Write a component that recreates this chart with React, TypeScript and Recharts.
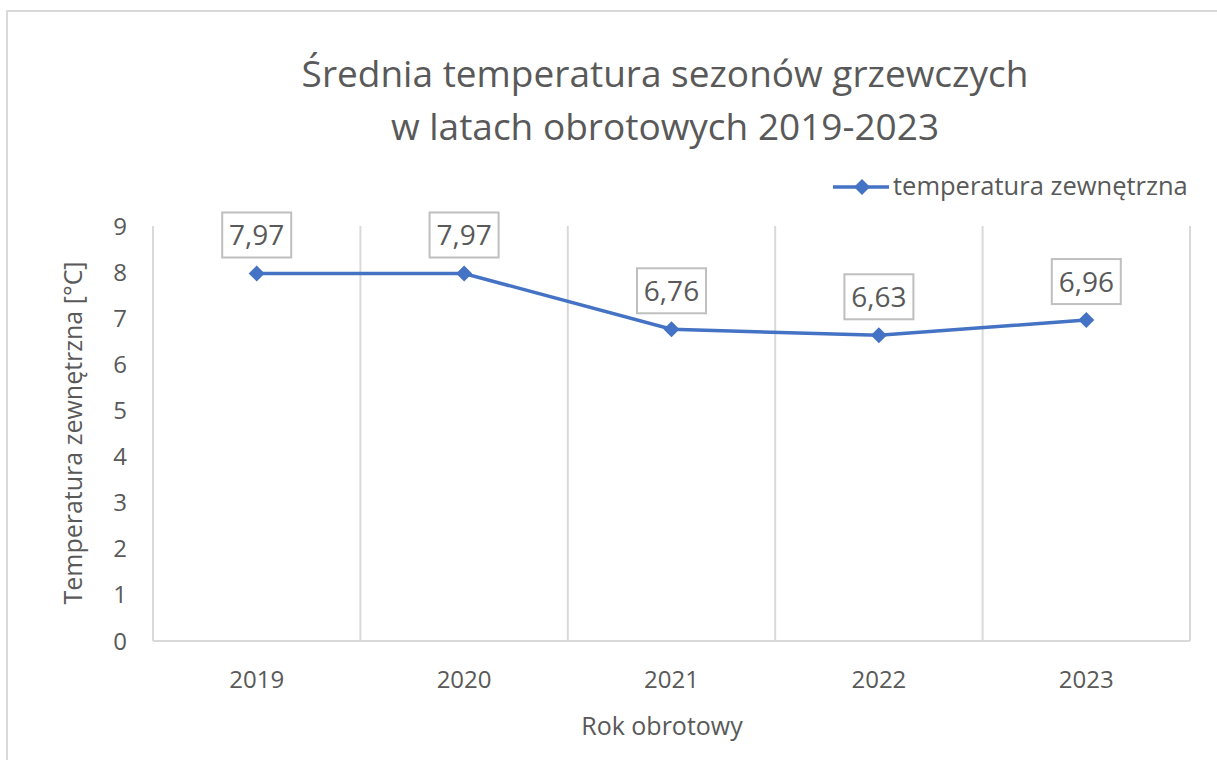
import { CartesianGrid, LabelList, Legend, Line, LineChart, XAxis, YAxis } from "recharts";

const years = ["2019", "2020", "2021", "2022", "2023"];
const temperatures = [7.97, 7.97, 6.76, 6.63, 6.96];
const yTicks = [0, 1, 2, 3, 4, 5, 6, 7, 8, 9];

const data = years.map((year, i) => ({ year, temp: temperatures[i] }));

const FONT = '"Open Sans", sans-serif';
const TEXT = "#595959";
const GRID = "#d9d9d9";
const BLUE = "#4472C4";

const fmt = (v: number) => v.toFixed(2).replace(".", ",");

function Diamond(props: any) {
  const { cx, cy } = props;
  if (cx == null || cy == null) return null;
  const r = 8;
  return (
    <polygon
      points={`${cx},${cy - r} ${cx + r},${cy} ${cx},${cy + r} ${cx - r},${cy}`}
      fill={BLUE}
    />
  );
}

function BoxLabel(props: any) {
  const { x, y, value } = props;
  if (x == null || y == null) return null;
  return (
    <g>
      <rect x={x - 34.5} y={y - 61} width={69} height={45} fill="#fff" stroke="#bfbfbf" strokeWidth={2} />
      <text x={x} y={y - 28} textAnchor="middle" fontSize={28} fill={TEXT} fontFamily={FONT}>
        {fmt(Number(value))}
      </text>
    </g>
  );
}

function LegendContent() {
  return (
    <svg width={370} height={40} style={{ display: "block" }}>
      <line x1={0} y1={19} x2={56} y2={19} stroke={BLUE} strokeWidth={3.5} />
      <polygon points="29,11 37,19 29,27 21,19" fill={BLUE} />
      <text x={60} y={27} fontSize={25.5} fill={TEXT} fontFamily={FONT}>
        temperatura zewnętrzna
      </text>
    </svg>
  );
}

export default function App() {
  return (
    <div style={{ position: "absolute", left: 0, top: 0, width: 1217, height: 760, background: "#fff", overflow: "hidden" }}>
      <div
        style={{
          position: "absolute",
          left: 6,
          top: 10,
          width: 1209,
          height: 800,
          border: `2px solid ${GRID}`,
        }}
      />
      <svg width={1217} height={760} style={{ position: "absolute", left: 0, top: 0 }}>
        <g fontFamily={FONT} fill={TEXT}>
          <text x={665} y={87} textAnchor="middle" fontSize={37}>
            Średnia temperatura sezonów grzewczych
          </text>
          <text x={665} y={140} textAnchor="middle" fontSize={37}>
            w latach obrotowych 2019-2023
          </text>
          <text x={662} y={735} textAnchor="middle" fontSize={25}>
            Rok obrotowy
          </text>
          <text transform="translate(82,433) rotate(-90)" textAnchor="middle" fontSize={25}>
            Temperatura zewnętrzna [°C]
          </text>
        </g>
      </svg>
      <div style={{ position: "absolute", left: 0, top: 0 }}>
        <LineChart width={1217} height={760} data={data} margin={{ top: 186, right: 27, bottom: 69, left: 93 }}>
          <CartesianGrid
            horizontal={false}
            stroke={GRID}
            strokeWidth={2}
            verticalCoordinatesGenerator={({ offset }: any) => {
              const step = offset.width / years.length;
              return years.map((_, i) => offset.left + i * step).concat(offset.left + offset.width);
            }}
          />
          <XAxis
            dataKey="year"
            scale="band"
            height={50}
            tickLine={false}
            axisLine={{ stroke: GRID, strokeWidth: 2 }}
            tick={{ fill: TEXT, fontSize: 24, fontFamily: FONT }}
            tickMargin={24}
          />
          <YAxis
            width={60}
            domain={[0, 9]}
            ticks={yTicks}
            interval={0}
            tickLine={false}
            axisLine={false}
            tick={{ fill: TEXT, fontSize: 24, fontFamily: FONT }}
            tickMargin={20}
          />
          <Legend
            verticalAlign="top"
            height={40}
            content={<LegendContent />}
            wrapperStyle={{ top: 168, left: 833, width: 370 }}
          />
          <Line
            type="linear"
            dataKey="temp"
            name="temperatura zewnętrzna"
            stroke={BLUE}
            strokeWidth={3.5}
            dot={<Diamond />}
            activeDot={false}
            isAnimationActive={false}
          >
            <LabelList dataKey="temp" content={<BoxLabel />} />
          </Line>
        </LineChart>
      </div>
    </div>
  );
}
